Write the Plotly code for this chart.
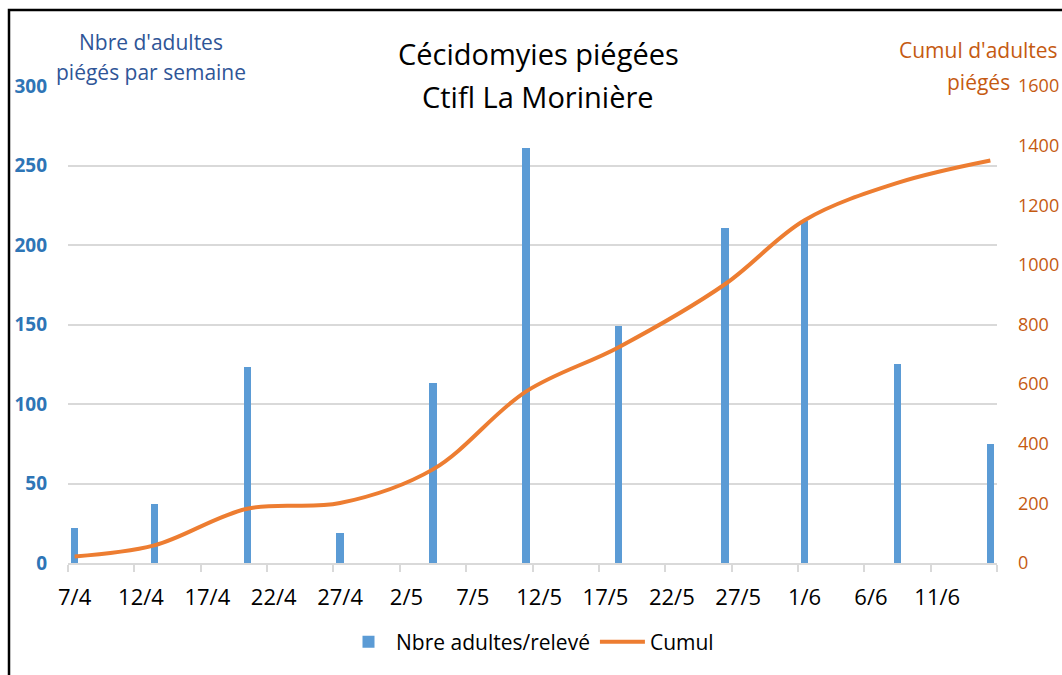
import plotly.graph_objects as go

# ---- data ----
dates = ["2019-04-07", "2019-04-13", "2019-04-20", "2019-04-27", "2019-05-04",
         "2019-05-11", "2019-05-18", "2019-05-26", "2019-06-01", "2019-06-08",
         "2019-06-15"]
adults = [22, 37, 123, 19, 113, 261, 149, 211, 215, 125, 75]
cumul = [22, 59, 182, 201, 314, 575, 724, 935, 1150, 1275, 1350]

tick_dates = ["2019-04-07", "2019-04-12", "2019-04-17", "2019-04-22", "2019-04-27",
              "2019-05-02", "2019-05-07", "2019-05-12", "2019-05-17", "2019-05-22",
              "2019-05-27", "2019-06-01", "2019-06-06", "2019-06-11"]
tick_labels = ["7/4", "12/4", "17/4", "22/4", "27/4", "2/5", "7/5", "12/5",
               "17/5", "22/5", "27/5", "1/6", "6/6", "11/6"]

FONT = "Open Sans"
DAY = 86400000

# plot area in pixels
W, H = 1062, 675
L, R, T, B = 68, 997, 86, 563


def px(x):
    return (x - L) / (R - L)


def py(y):
    return (B - y) / (B - T)


fig = go.Figure()
fig.add_trace(go.Bar(
    x=dates, y=adults, name="Nbre adultes/relevé",
    marker=dict(color="#5B9BD5", line=dict(width=0)),
    width=0.55 * DAY, xperiod=DAY, xperiodalignment="middle",
))
fig.add_trace(go.Scatter(
    x=dates, y=cumul, name="Cumul", yaxis="y2", mode="lines",
    line=dict(color="#ED7D31", width=4, shape="spline", smoothing=1.0),
    xperiod=DAY, xperiodalignment="middle",
))

tickvals = [d + " 12:00" for d in tick_dates]

fig.update_layout(
    width=W, height=H,
    margin=dict(l=L, r=W - R, t=T, b=H - B, pad=0, autoexpand=False),
    paper_bgcolor="white", plot_bgcolor="white",
    font=dict(family=FONT, color="#000000"),
    bargap=0,
    xaxis=dict(
        type="date", range=["2019-04-07", "2019-06-16"],
        tickvals=tickvals, ticktext=tick_labels, ticks="",
        tickfont=dict(size=22, color="#000000"),
        showline=True, linecolor="#D9D9D9", linewidth=2,
        showgrid=False, zeroline=False, ticklabelstandoff=14, automargin=False,
        minor=dict(ticks="outside", ticklen=7, tickcolor="#D9D9D9", tickwidth=2,
                   tick0="2019-04-07", dtick=5 * DAY, showgrid=False),
    ),
    yaxis=dict(
        range=[0, 300], dtick=50, showgrid=True, gridcolor="#D9D9D9", gridwidth=2,
        zeroline=False, showline=False, ticks="", automargin=False,
        tickfont=dict(size=19, color="#2E75B6", family=FONT, weight="bold"),
        ticklabelstandoff=20,
    ),
    yaxis2=dict(
        range=[0, 1600], dtick=200, overlaying="y", side="right",
        showgrid=False, zeroline=False, showline=False, ticks="", automargin=False,
        tickfont=dict(size=18, color="#C55A11"),
        ticklabelstandoff=20,
    ),
    legend=dict(
        orientation="h", x=px(530), xanchor="center", y=py(642), yanchor="middle",
        font=dict(size=21, color="#000000"), itemwidth=45, traceorder="normal",
    ),
    showlegend=True,
)

ann = [
    dict(text="Cécidomyies piégées", x=px(538), y=py(54), size=29, color="#000000"),
    dict(text="Ctifl La Morinière", x=px(538), y=py(96), size=29, color="#000000"),
    dict(text="Nbre d'adultes", x=px(151), y=py(42), size=21, color="#2F5597"),
    dict(text="piégés par semaine", x=px(151), y=py(72), size=21, color="#2F5597"),
    dict(text="Cumul d'adultes", x=px(978), y=py(50), size=21, color="#C55A11"),
    dict(text="piégés", x=px(978), y=py(82), size=21, color="#C55A11"),
]
for a in ann:
    fig.add_annotation(
        text=a["text"], x=a["x"], y=a["y"], xref="paper", yref="paper",
        xanchor="center", yanchor="middle", showarrow=False,
        font=dict(family=FONT, size=a["size"], color=a["color"]),
        bgcolor="rgba(0,0,0,0)", borderpad=0,
    )

fig.add_shape(type="rect", xref="paper", yref="paper",
              x0=px(9), x1=px(1066), y0=py(679), y1=py(10),
              line=dict(color="black", width=2.5), fillcolor="rgba(0,0,0,0)",
              layer="above")

fig.write_html("out.html", config={"displayModeBar": False},
               post_script="document.body.style.margin='0';")
